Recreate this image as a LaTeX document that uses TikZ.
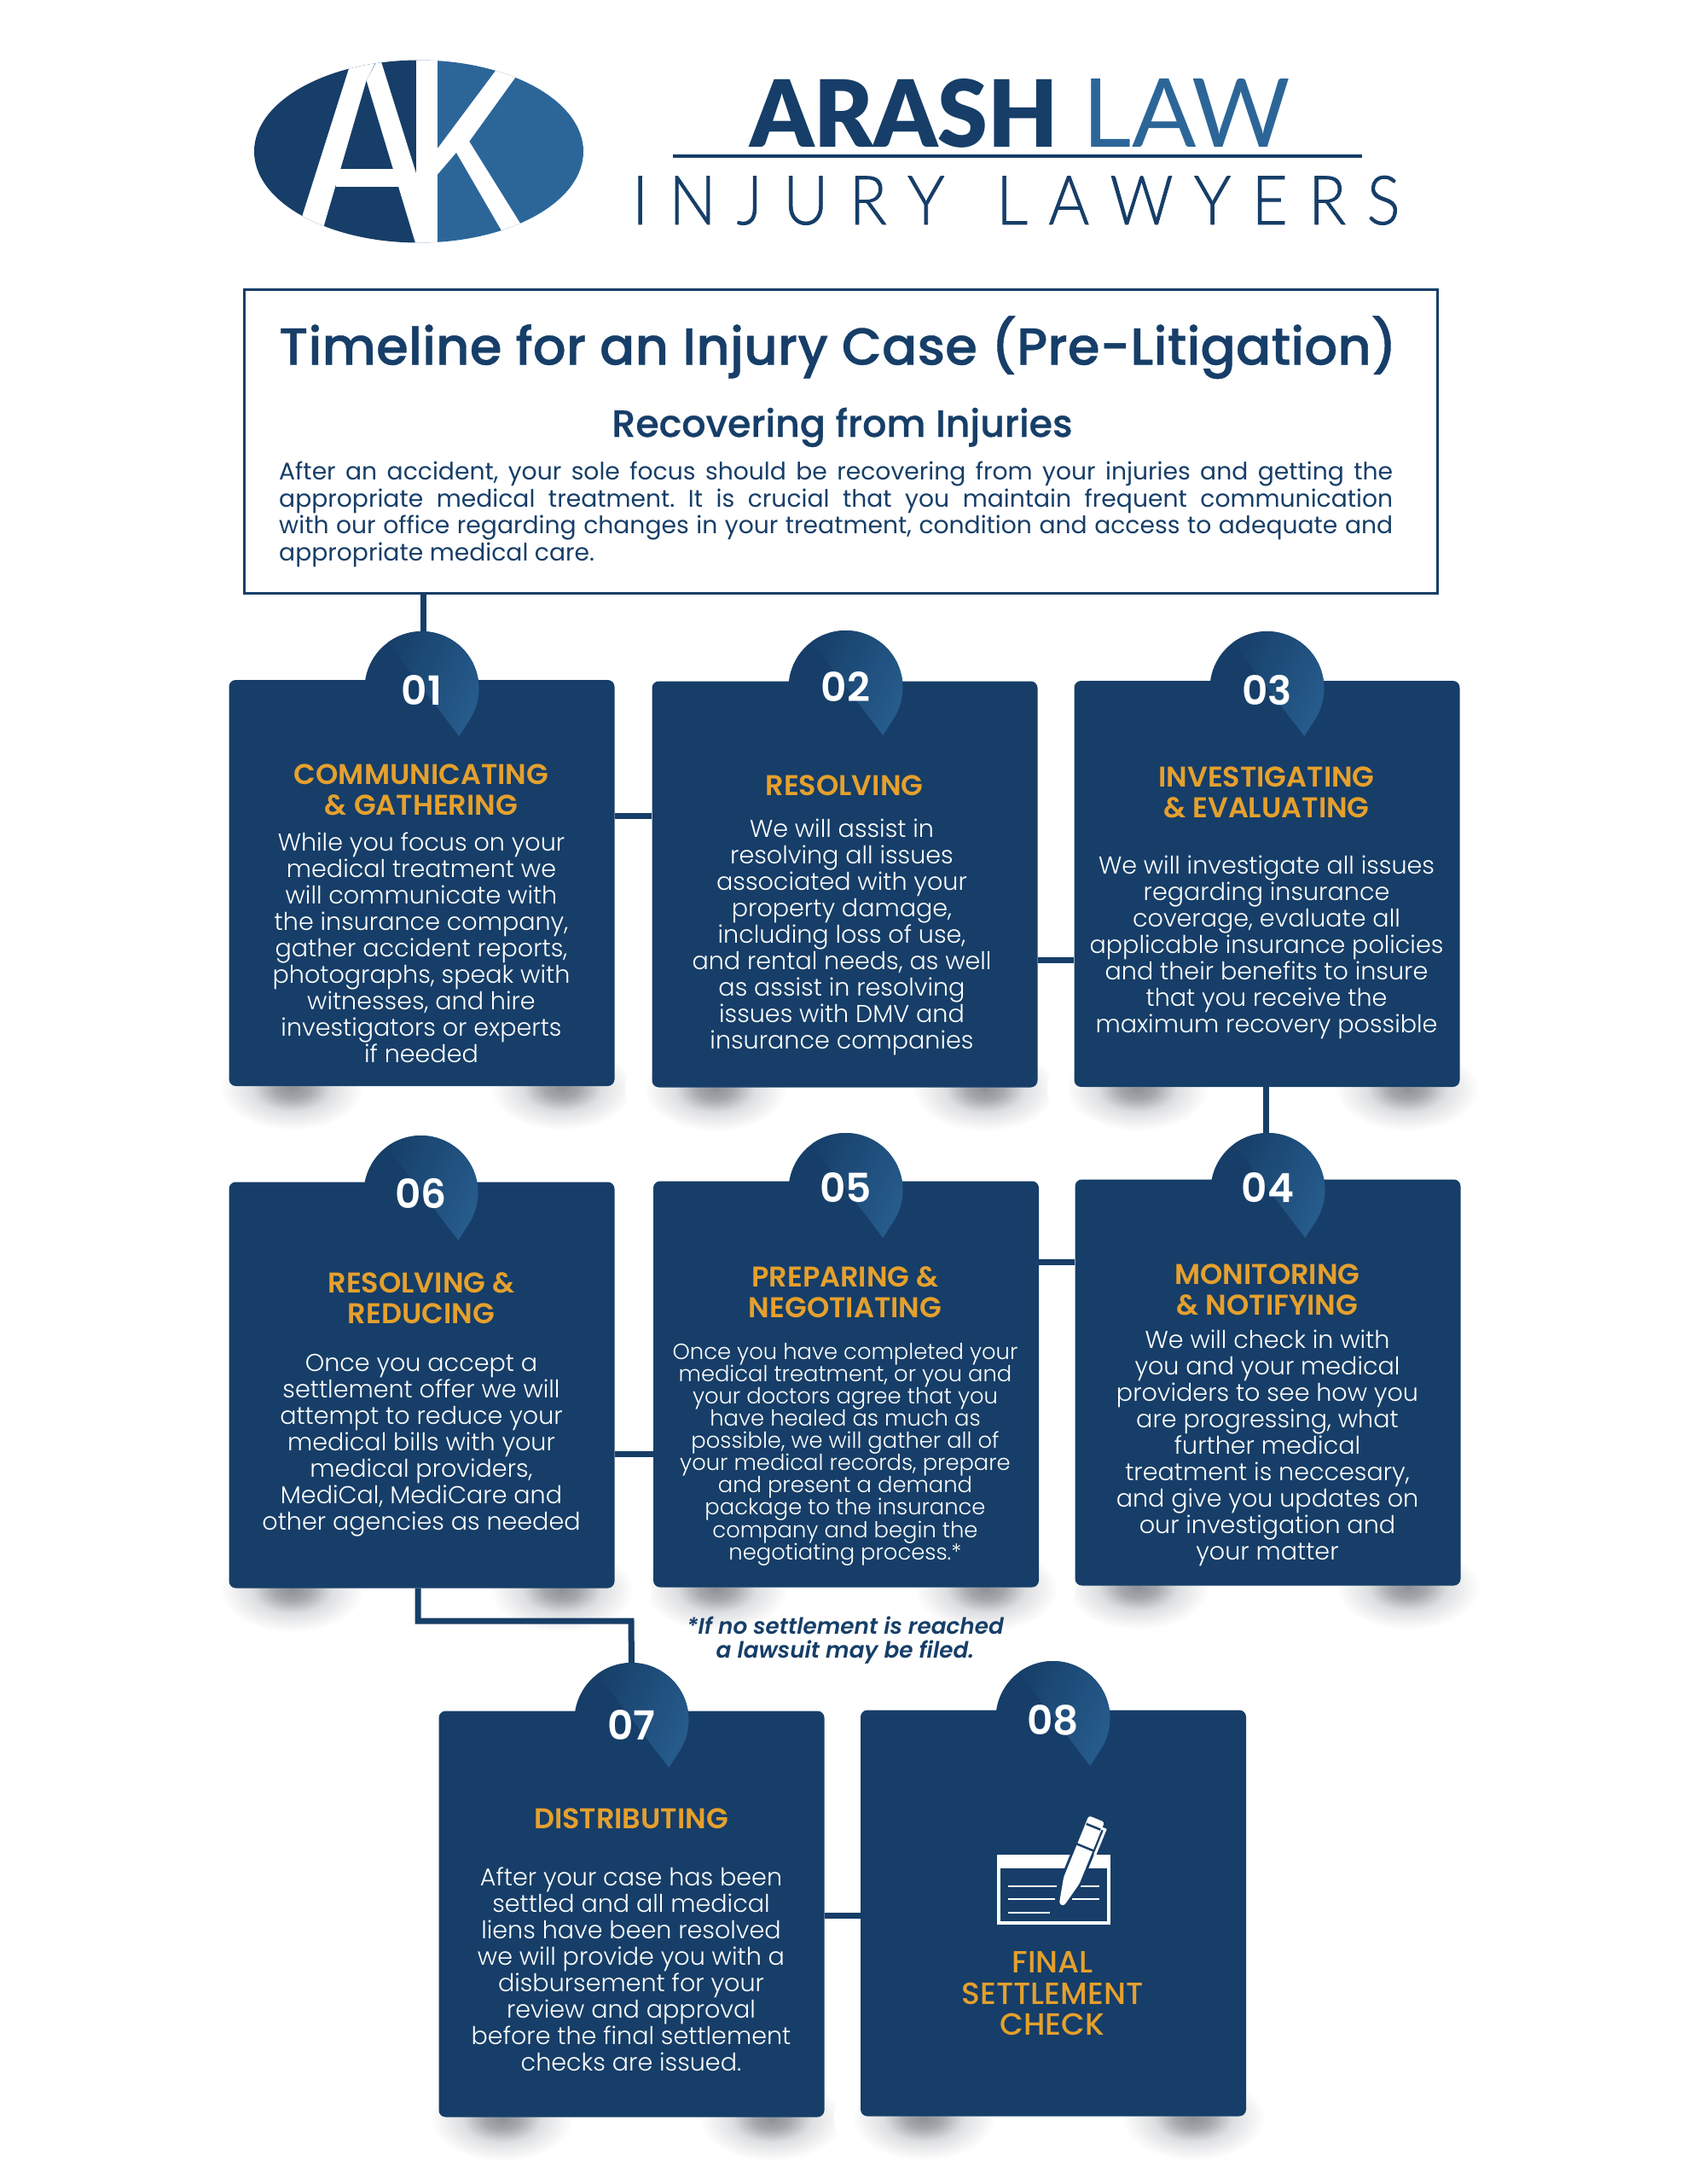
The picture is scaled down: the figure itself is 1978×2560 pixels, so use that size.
\documentclass[tikz,border=0pt]{standalone}
\usepackage{fontspec}
\usepackage{graphicx}
\usetikzlibrary{calc}
\setmainfont{Poppins}
\newfontfamily\plight{Poppins Light}
\newfontfamily\ptitle[FakeBold=0.6]{Poppins Medium}
\newfontfamily\pmed{Poppins Medium}
\newfontfamily\psemi{Poppins SemiBold}
\newfontfamily\lreg{Lato}
\newfontfamily\llight[FakeBold=1]{Lato Light}
\newfontfamily\lblack{Lato Black}
\frenchspacing
\AtBeginDocument{\lineskiplimit=-100pt}
\definecolor{navy}{HTML}{163E68}
\definecolor{lightblue}{HTML}{2C6699}
\definecolor{gold}{HTML}{E5A02D}
\definecolor{shadowc}{HTML}{8E9298}
\pgfdeclarelayer{under}
\pgfsetlayers{under,main}
\pgfdeclareradialshading{softshadow}{\pgfpoint{0bp}{0bp}}{color(0bp)=(shadowc); color(5bp)=(shadowc!80!white); color(11bp)=(shadowc!30!white); color(20bp)=(white); color(50bp)=(white)}
\tikzset{
 card/.style={fill=navy,rounded corners=8pt,minimum width=452pt,minimum height=476pt,inner sep=0pt,draw=none},
 conn/.style={draw=navy,line width=7pt},
 ring/.style={circle,inner sep=0pt,minimum size=134pt},
 numtext/.style={text=white,font=\psemi\fontsize{47}{47}\selectfont,inner sep=0pt},
 head/.style={text=gold,font=\psemi\fontsize{33.5}{36.3}\selectfont,align=center,inner sep=0pt,anchor=north},
 headwide/.style={text=gold,font=\pmed\fontsize{36}{36.8}\selectfont,align=center,inner sep=0pt,anchor=north},
 body/.style={text=white,font=\plight\fontsize{28.6}{31}\selectfont,align=center,inner sep=0pt,anchor=north},
 bodysmall/.style={text=white,font=\plight\fontsize{25.8}{26.1}\selectfont,align=center,inner sep=0pt,anchor=north},
 note/.style={text=navy,font=\psemi\itshape\fontsize{26.3}{28}\selectfont,align=center,inner sep=0pt,anchor=north},
 para/.style={text=navy,font=\fontsize{28.2}{31.5}\selectfont,align=left,inner sep=0pt,anchor=north west}
}
\newcommand{\st}{\rule{0pt}{24pt}}
\newcommand{\myshadow}[1]{%
 \shade[shading=softshadow] ($(#1.south west)+(74,2)$) ellipse [x radius=105,y radius=62];
 \shade[shading=softshadow] ($(#1.south east)+(-62,2)$) ellipse [x radius=105,y radius=62];
}
\newcommand{\tearpath}{(21.5,63.5) arc[start angle=71.3,end angle=392.7,radius=67] -- (43.7,56) -- cycle}
\newcommand{\mybadge}[5]{%
 \begin{scope}[shift={(#2,#3)}]
  \fill[navy] \tearpath;
  \begin{scope}
   \clip \tearpath;
   \shade[left color=navy,right color=lightblue,shading angle=65] (-60,-80) -- (100,-80) -- (100,110) -- (85,110) -- cycle;
  \end{scope}
  \node[ring] (#1) at (0,0) {};
  \node[numtext] (n#1) at (0,#5) {#4};
 \end{scope}
}
\begin{document}
\begin{tikzpicture}[x=1pt,y=-1pt]
\useasboundingbox (0,0) rectangle (1978,2560);
\begin{pgfonlayer}{under}
\fill[white] (0,0) rectangle (1978,2560);
\end{pgfonlayer}
% logo mark
\begin{scope}
 \clip (491,177.5) ellipse [x radius=193,y radius=107];
 \fill[navy] (290,60) rectangle (491,300);
 \fill[lightblue] (491,60) rectangle (690,300);
 \fill[white] (413.6,66) -- (444,66) -- (429.6,94.2) -- (378.2,270) -- (349,270) -- cycle;
 \fill[white] (429.6,94.2) -- (445,66) -- (490.4,211) -- (490.4,296) -- cycle;
 \fill[white] (488,66) rectangle (512.7,296);
 \fill[white] (394,198.3) rectangle (469,218.7);
 \fill[white] (512.7,174.4) -- (584,79) -- (607,87) -- (550.2,165.8) -- (612,265) -- (589,272) -- (535,178.8) -- (512.7,204.8) -- cycle;
\end{scope}
\node[inner sep=0pt,anchor=base west,text=navy] (arash) at (879,172) {\resizebox{361.7pt}{80pt}{\lblack ARASH}};
\node[inner sep=0pt,anchor=base west,text=lightblue] (law) at (1269.6,172) {\resizebox{243.5pt}{80pt}{\lreg LAW}};
\node[inner sep=0pt,anchor=base west,text=navy] (injury) at (741,263) {\resizebox{900pt}{57pt}{\llight I\,\,N\,\,J\,\,U\,\,R\,\,Y\,\,\,\,\,L\,\,A\,\,W\,\,Y\,\,E\,\,R\,\,S}};
\coordinate (rl) at (789,183);
\coordinate (rr) at (1597,183);
\draw[navy,line width=4pt] (rl) -- (rr);
% title box
\node[draw=navy,line width=3pt,fill=white,minimum width=1399pt,minimum height=356pt,inner sep=0pt] (box) at (985.5,517) {};
\node[inner sep=0pt,anchor=base,text=navy] (title) at (982.5,427.5) {\resizebox{1311pt}{!}{\ptitle Timeline for an Injury Case (Pre-Litigation)}};
\node[inner sep=0pt,anchor=base,text=navy] (sub) at (987.5,512) {\resizebox{540pt}{!}{\ptitle Recovering from Injuries}};
\node[para] (par) at (327,538.5) {\st\makebox[1306pt][s]{After an accident, your sole focus should be recovering from your injuries and getting the}\\
\makebox[1306pt][s]{appropriate medical treatment. It is crucial that you maintain frequent communication}\\
\makebox[1306pt][s]{with our office regarding changes in your treatment, condition and access to adequate and}\\
appropriate medical care.};
% cards
\node[card] (c1) at (494.5,1035) {};
\node[card] (c2) at (990.5,1036.5) {};
\node[card] (c3) at (1485.5,1036) {};
\node[card] (c6) at (494.5,1623.5) {};
\node[card] (c5) at (992,1622.5) {};
\node[card] (c4) at (1486.5,1620.5) {};
\node[card] (c7) at (740.5,2243.5) {};
\node[card] (c8) at (1235,2242.5) {};
\begin{pgfonlayer}{under}
\myshadow{c1}\myshadow{c2}\myshadow{c3}\myshadow{c4}\myshadow{c5}\myshadow{c6}\myshadow{c7}\myshadow{c8}
\end{pgfonlayer}
% connectors' routing points
\coordinate (j12) at (740,956);
\coordinate (j23) at (1240,1125);
\coordinate (j45) at (1240,1479);
\coordinate (j56) at (745,1704);
\coordinate (j78) at (990,2245);
\coordinate (e1) at (490,1900);
\coordinate (e2) at (740,1900);
\coordinate (x1) at (496,700);
\coordinate (x3) at (1484,1300);
\draw[conn] (c1.east |- j12) -- (c2.west |- j12);
\draw[conn] (c2.east |- j23) -- (c3.west |- j23);
\draw[conn] (c4.west |- j45) -- (c5.east |- j45);
\draw[conn] (c5.west |- j56) -- (c6.east |- j56);
\draw[conn] (c7.east |- j78) -- (c8.west |- j78);
% badges
\mybadge{b1}{494.5}{807}{01}{2.4}
\mybadge{b2}{991.5}{806}{02}{-1}
\mybadge{b3}{1485.5}{807}{03}{2.4}
\mybadge{b6}{493.5}{1398}{06}{0.7}
\mybadge{b5}{991.5}{1395}{05}{-2.5}
\mybadge{b4}{1486.5}{1395}{04}{-2.5}
\mybadge{b7}{740.5}{2016}{07}{5.6}
\mybadge{b8}{1234.5}{2014}{08}{2.4}
\draw[conn] (box.south -| x1) -- (b1.north -| x1);
\draw[conn] (c3.south -| x3) -- (b4.north -| x3);
\draw[conn] (c6.south -| e1) -- (e1) -- (e2) -- (b7.north);
% texts
\node[head] (h1) at (494,895) {\st COMMUNICATING\\\& GATHERING};
\node[body] (t1) at (494,973) {\st While you focus on your\\medical treatment we\\will communicate with\\the insurance company,\\gather accident reports,\\photographs, speak with\\witnesses, and hire\\investigators or experts\\if needed};
\node[head] (h2) at (990,908) {\st RESOLVING};
\node[body] (t2) at (987,957.5) {\st We will assist in\\resolving all issues\\associated with your\\property damage,\\including loss of use,\\and rental needs, as well\\as assist in resolving\\issues with DMV and\\insurance companies};
\node[head] (h3) at (1485,898) {\st INVESTIGATING\\\& EVALUATING};
\node[body] (t3) at (1485,1000) {\st We will investigate all issues\\regarding insurance\\coverage, evaluate all\\applicable insurance policies\\and their benefits to insure\\that you receive the\\maximum recovery possible};
\node[head] (h6) at (494,1491) {\st RESOLVING \&\\REDUCING};
\node[body] (t6) at (494,1583) {\st Once you accept a\\settlement offer we will\\attempt to reduce your\\medical bills with your\\medical providers,\\MediCal, MediCare and\\other agencies as needed};
\node[head] (h5) at (991,1484) {\st PREPARING \&\\NEGOTIATING};
\node[bodysmall] (t5) at (991,1569) {\st Once you have completed your\\medical treatment, or you and\\your doctors agree that you\\have healed as much as\\possible, we will gather all of\\your medical records, prepare\\and present a demand\\package to the insurance\\company and begin the\\negotiating process.*};
\node[head] (h4) at (1486,1481) {\st MONITORING\\\& NOTIFYING};
\node[body] (t4) at (1486,1556) {\st We will check in with\\you and your medical\\providers to see how you\\are progressing, what\\further medical\\treatment is neccesary,\\and give you updates on\\our investigation and\\your matter};
\node[note] (nt) at (991,1891) {\st *If no settlement is reached\\a lawsuit may be filed.};
\node[head] (h7) at (740,2119) {\st DISTRIBUTING};
\node[body] (t7) at (740,2186) {\st After your case has been\\settled and all medical\\liens have been resolved\\we will provide you with a\\disbursement for your\\review and approval\\before the final settlement\\checks are issued.};
\node[headwide] (h8) at (1234,2287) {\st FINAL\\SETTLEMENT\\CHECK};
% check icon
\fill[white] (1169,2174) rectangle (1302,2256);
\fill[navy] (1173,2190) rectangle (1298,2252);
\draw[white,line width=2pt] (1182,2211) -- (1239,2211) (1182,2226) -- (1237,2226) (1182,2242) -- (1231,2242) (1267,2211) -- (1289,2211) (1257,2226) -- (1289,2226);
\begin{scope}[shift={(1245,2232)},x={(0.378pt,0.926pt)},y={(0.926pt,-0.378pt)}]
 \draw[navy,line width=6pt,rounded corners=3pt] (-1,-3) -- (30,-10) -- (108,-10) -- (108,10) -- (30,10) -- (-1,3) -- cycle;
 \fill[white,rounded corners=3pt] (-1,-3) -- (30,-10) -- (108,-10) -- (108,10) -- (30,10) -- (-1,3) -- cycle;
 \draw[navy,line width=2.5pt] (72,-11) -- (72,11) (98,-9) -- (98,9);
 \draw[white,line width=3pt] (68,14) -- (100,14) -- (100,9);
\end{scope}
\end{tikzpicture}
\end{document}
